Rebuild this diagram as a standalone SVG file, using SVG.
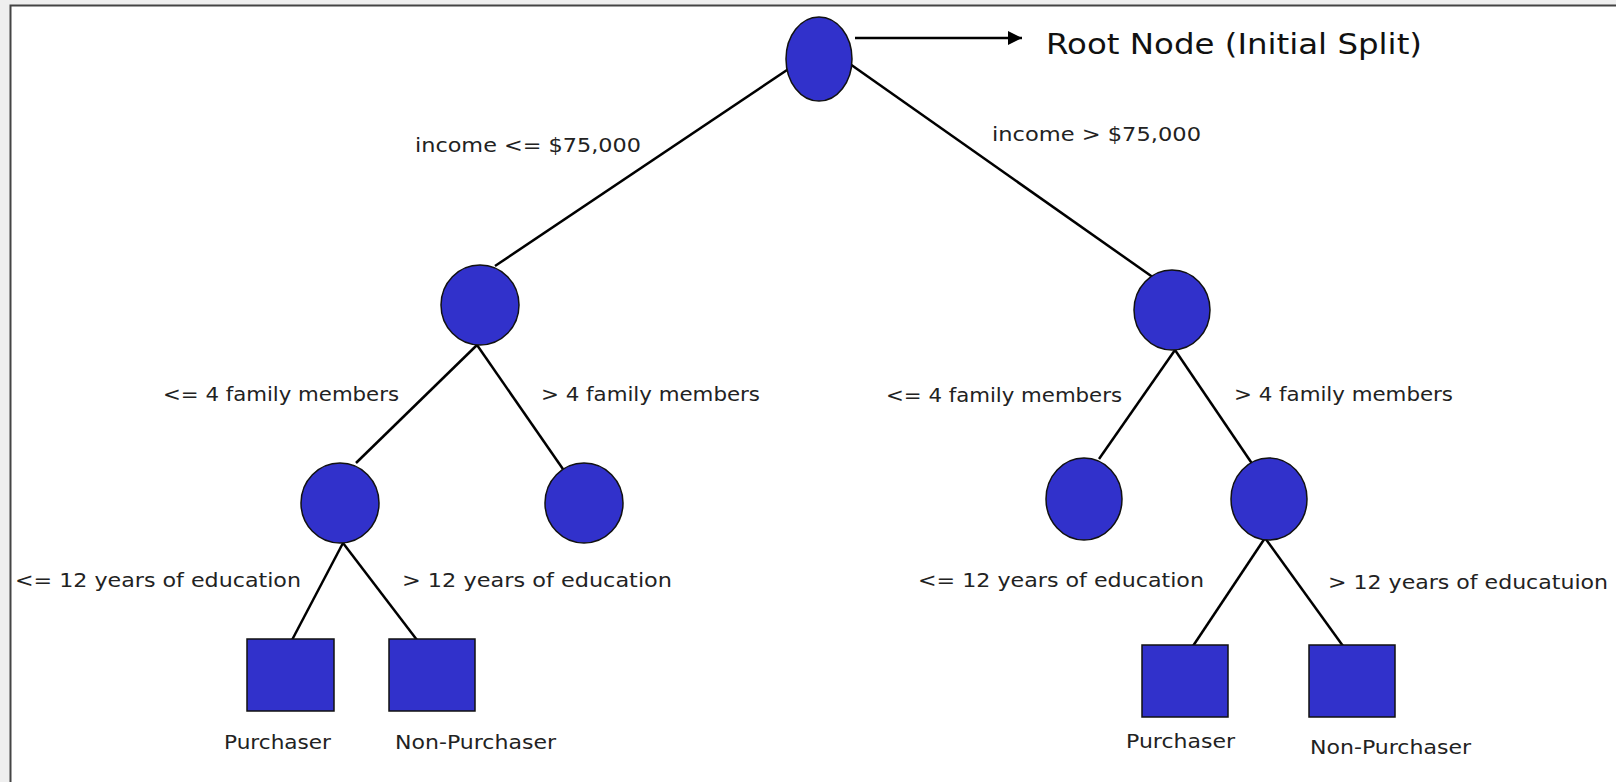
<svg xmlns="http://www.w3.org/2000/svg" width="1616" height="782" viewBox="0 0 1616 782">
<defs>
<style>
.n{fill:#3131cb;stroke:#111;stroke-width:1.5}
.e{stroke:#000;stroke-width:2.5;fill:none}
.t{font-family:"DejaVu Sans","Liberation Sans",sans-serif;font-size:20px;fill:#222}
.r{font-family:"DejaVu Sans","Liberation Sans",sans-serif;font-size:29px;fill:#111}
</style>
<marker id="ah" viewBox="0 0 10 10" refX="10" refY="5" markerWidth="18" markerHeight="14" markerUnits="userSpaceOnUse" orient="auto">
<path d="M0,0 L10,5 L0,10 z" fill="#000"/>
</marker>
</defs>
<rect x="0" y="0" width="1616" height="782" fill="#efefef"/>
<rect x="10" y="5" width="1620" height="800" fill="#fff"/>
<path d="M10.5,790 V5.5 H1616" fill="none" stroke="#444" stroke-width="2"/>
<g id="connectors">
<line class="e" x1="855" y1="38" x2="1022" y2="38" stroke-width="2" marker-end="url(#ah)"/>
<line class="e" x1="790" y1="68" x2="495" y2="266"/>
<line class="e" x1="850" y1="64" x2="1154" y2="278"/>
<line class="e" x1="477" y1="345" x2="356" y2="463"/>
<line class="e" x1="477" y1="345" x2="565" y2="472"/>
<line class="e" x1="1175" y1="350" x2="1099" y2="459"/>
<line class="e" x1="1175" y1="350" x2="1253" y2="465"/>
<line class="e" x1="343" y1="543" x2="292" y2="640"/>
<line class="e" x1="343" y1="543" x2="417" y2="640"/>
<line class="e" x1="1265" y1="538" x2="1193" y2="646"/>
<line class="e" x1="1265" y1="538" x2="1343" y2="646"/>
</g>
<g id="root"><ellipse class="n" cx="819" cy="59" rx="33" ry="42"/></g>
<g id="rootlabel"><text class="r" x="1046" y="54" textLength="376" lengthAdjust="spacingAndGlyphs">Root Node (Initial Split)</text></g>
<g id="n1L"><ellipse class="n" cx="480" cy="305" rx="39" ry="40"/></g>
<g id="n1R"><ellipse class="n" cx="1172" cy="310" rx="38" ry="40"/></g>
<g id="n2LL"><ellipse class="n" cx="340" cy="503" rx="39" ry="40"/></g>
<g id="n2LR"><ellipse class="n" cx="584" cy="503" rx="39" ry="40"/></g>
<g id="n2RL"><ellipse class="n" cx="1084" cy="499" rx="38" ry="41"/></g>
<g id="n2RR"><ellipse class="n" cx="1269" cy="499" rx="38" ry="41"/></g>
<g id="leafLP"><rect class="n" x="247" y="639" width="87" height="72"/><text class="t" x="224" y="749" textLength="107" lengthAdjust="spacingAndGlyphs">Purchaser</text></g>
<g id="leafLN"><rect class="n" x="389" y="639" width="86" height="72"/><text class="t" x="395" y="749" textLength="161" lengthAdjust="spacingAndGlyphs">Non-Purchaser</text></g>
<g id="leafRP"><rect class="n" x="1142" y="645" width="86" height="72"/><text class="t" x="1126" y="748" textLength="109" lengthAdjust="spacingAndGlyphs">Purchaser</text></g>
<g id="leafRN"><rect class="n" x="1309" y="645" width="86" height="72"/><text class="t" x="1310" y="754" textLength="161" lengthAdjust="spacingAndGlyphs">Non-Purchaser</text></g>
<g id="labels">
<text class="t" x="415" y="152" textLength="226" lengthAdjust="spacingAndGlyphs">income &lt;= $75,000</text>
<text class="t" x="992" y="141" textLength="209" lengthAdjust="spacingAndGlyphs">income &gt; $75,000</text>
<text class="t" x="163" y="401" textLength="236" lengthAdjust="spacingAndGlyphs">&lt;= 4 family members</text>
<text class="t" x="541" y="401" textLength="219" lengthAdjust="spacingAndGlyphs">&gt; 4 family members</text>
<text class="t" x="886" y="402" textLength="236" lengthAdjust="spacingAndGlyphs">&lt;= 4 family members</text>
<text class="t" x="1234" y="401" textLength="219" lengthAdjust="spacingAndGlyphs">&gt; 4 family members</text>
<text class="t" x="15" y="587" textLength="286" lengthAdjust="spacingAndGlyphs">&lt;= 12 years of education</text>
<text class="t" x="402" y="587" textLength="270" lengthAdjust="spacingAndGlyphs">&gt; 12 years of education</text>
<text class="t" x="918" y="587" textLength="286" lengthAdjust="spacingAndGlyphs">&lt;= 12 years of education</text>
<text class="t" x="1328" y="589" textLength="280" lengthAdjust="spacingAndGlyphs">&gt; 12 years of educatuion</text>
</g>
</svg>
